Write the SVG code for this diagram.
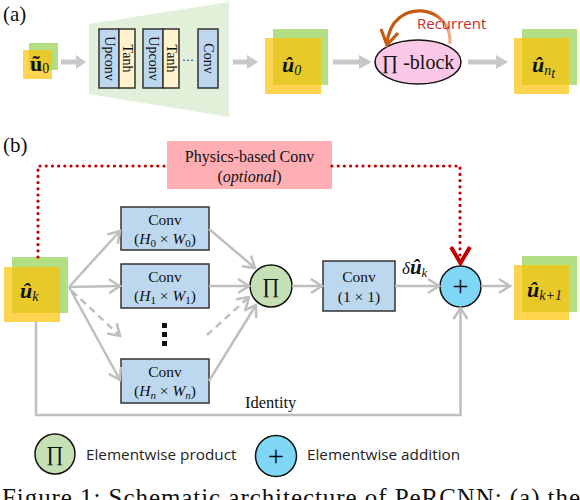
<svg xmlns="http://www.w3.org/2000/svg" width="580" height="500" viewBox="0 0 580 500">
<defs>
<style>
.serif{font-family:"Liberation Serif","Times New Roman",serif;fill:#111}
.sans{font-family:"Open Sans","Noto Sans",sans-serif;fill:#222}
.grn{fill:#b3df84}
.yel{fill:#ffc000;fill-opacity:0.69}
.blk{fill:#bdd7ee;stroke:#333;stroke-width:1.5}
.tanh{fill:#fff2cc;stroke:#333;stroke-width:1.5}
.con{fill:none;stroke:#bfbfbf;stroke-width:2.5}
.dash{stroke-dasharray:7 5}
.fat{fill:#c8c8c8}
.red{fill:none;stroke:#c00000;stroke-width:3.2;stroke-linecap:round;stroke-dasharray:0 6.2}
.pi{fill:#c5e0b4;stroke:#111;stroke-width:1.5}
.plus{fill:#7fd6f7;stroke:#111;stroke-width:1.5}
.lab{font-family:"Liberation Serif","Times New Roman",serif;font-weight:bold;font-style:italic;font-size:22px;fill:#111}
.sub{font-family:"Liberation Serif","Times New Roman",serif;font-style:italic;font-weight:normal;font-size:14px}
</style>
<marker id="ch" markerUnits="userSpaceOnUse" markerWidth="24" markerHeight="24" viewBox="-12 -12 24 24" refX="0" refY="0" orient="auto" overflow="visible">
<path d="M-11,-7 L0,0 L-11,7" fill="none" stroke="#bfbfbf" stroke-width="2.5"/>
</marker>
<linearGradient id="rg" x1="386" y1="0" x2="452" y2="0" gradientUnits="userSpaceOnUse">
<stop offset="0" stop-color="#c55a11"/>
<stop offset="0.72" stop-color="#c55a11"/>
<stop offset="1" stop-color="#f4b89a"/>
</linearGradient>
</defs>
<rect width="580" height="500" fill="#ffffff"/>

<!-- panel labels -->
<text class="serif" x="3" y="21" font-size="21">(a)</text>
<text class="serif" x="3" y="152" font-size="21">(b)</text>

<!-- (a) input u~0 -->
<g id="u0in">
<rect class="grn" x="29" y="43" width="29" height="27"/>
<rect class="yel" x="23" y="50" width="29" height="29"/>
<text class="serif" x="30" y="71" font-size="22" font-weight="bold">ũ<tspan font-size="14" font-weight="normal" dy="2">0</tspan></text>
</g>

<!-- (a) decoder trapezoid -->
<g id="decoder">
<polygon points="89,24 229,2 229,117 89,94" fill="#e2efd9"/>
<rect class="blk" x="99" y="29" width="20" height="59"/>
<rect class="tanh" x="119" y="29" width="16" height="59"/>
<rect class="blk" x="143" y="29" width="20" height="59"/>
<rect class="tanh" x="163" y="29" width="16" height="59"/>
<rect class="blk" x="198" y="29" width="20" height="59"/>
<text class="serif" font-size="14" text-anchor="middle" transform="translate(104.5,58.5) rotate(90)">Upconv</text>
<text class="serif" font-size="14" text-anchor="middle" transform="translate(122.5,58.5) rotate(90)">Tanh</text>
<text class="serif" font-size="14" text-anchor="middle" transform="translate(148.5,58.5) rotate(90)">Upconv</text>
<text class="serif" font-size="14" text-anchor="middle" transform="translate(166.5,58.5) rotate(90)">Tanh</text>
<text class="serif" font-size="14" text-anchor="middle" transform="translate(203.5,58.5) rotate(90)">Conv</text>
<text class="serif" font-size="12" text-anchor="middle" x="188" y="64">···</text>
</g>

<!-- (a) u^0 -->
<g id="u0">
<rect class="grn" x="273" y="29" width="55" height="56"/>
<rect class="yel" x="265" y="38" width="56" height="56"/>
<text class="lab" x="282" y="72">û<tspan class="sub" dy="3" font-style="normal">0</tspan></text>
</g>

<!-- (a) Pi block -->
<g id="piblock">
<ellipse cx="418" cy="62" rx="43" ry="22" fill="#fcc8e8" stroke="#111" stroke-width="1.5"/>
<text class="serif" x="418" y="69" font-size="20" text-anchor="middle">∏ -block</text>
</g>

<!-- (a) u^nt -->
<g id="unt">
<rect class="grn" x="522" y="29" width="55" height="56"/>
<rect class="yel" x="514" y="38" width="55" height="56"/>
<text class="lab" x="532" y="72">û<tspan class="sub" dy="3">n</tspan><tspan class="sub" font-size="10" dy="3">t</tspan></text>
</g>

<!-- (a) connectors -->
<g id="connectors-a">
<polygon class="fat" points="61,59.5 76,59.5 76,55 86,62 76,69 76,64.5 61,64.5"/>
<polygon class="fat" points="233,59.5 247,59.5 247,55 258,62 247,69 247,64.5 233,64.5"/>
<polygon class="fat" points="333,59.5 359,59.5 359,55 372,62 359,69 359,64.5 333,64.5"/>
<polygon class="fat" points="468,59.5 496,59.5 496,55 508,62 496,69 496,64.5 468,64.5"/>
<path d="M450,44 C453,4 392,-4 387,43" fill="none" stroke="url(#rg)" stroke-width="3.2"/>
<polyline points="381,29 387,45 398,33" fill="none" stroke="#c55a11" stroke-width="3.2"/>
<text class="sans" x="417" y="29" font-size="15" style="fill:#cc2a2a">Recurrent</text>
</g>

<!-- (b) physics-based conv -->
<g id="physics">
<rect x="167" y="141" width="165" height="48" fill="#ffaeb4"/>
<text class="serif" x="249.5" y="162" font-size="16" text-anchor="middle">Physics-based Conv</text>
<text class="serif" x="249.5" y="182" font-size="16" text-anchor="middle">(<tspan font-style="italic">optional</tspan>)</text>
</g>

<!-- (b) uk -->
<g id="uk">
<rect class="grn" x="12" y="257" width="56" height="56"/>
<rect class="yel" x="4" y="267" width="56" height="55"/>
<text class="lab" x="20" y="298">û<tspan class="sub" dy="3">k</tspan></text>
</g>

<!-- (b) conv branches -->
<g id="conv0">
<rect class="blk" x="121" y="207" width="88" height="43"/>
<text class="serif" x="165" y="225" font-size="15.5" text-anchor="middle">Conv</text>
<text class="serif" x="165" y="244" font-size="15.5" text-anchor="middle">(<tspan font-style="italic">H</tspan><tspan font-size="11" dy="3">0</tspan><tspan dy="-3"> × </tspan><tspan font-style="italic">W</tspan><tspan font-size="11" dy="3">0</tspan><tspan dy="-3">)</tspan></text>
</g>
<g id="conv1">
<rect class="blk" x="121" y="264" width="88" height="44"/>
<text class="serif" x="165" y="282" font-size="15.5" text-anchor="middle">Conv</text>
<text class="serif" x="165" y="301" font-size="15.5" text-anchor="middle">(<tspan font-style="italic">H</tspan><tspan font-size="11" dy="3">1</tspan><tspan dy="-3"> × </tspan><tspan font-style="italic">W</tspan><tspan font-size="11" dy="3">1</tspan><tspan dy="-3">)</tspan></text>
</g>
<g id="vdots">
<rect x="162" y="323" width="5" height="5" fill="#111"/>
<rect x="162" y="332" width="5" height="5" fill="#111"/>
<rect x="162" y="341" width="5" height="5" fill="#111"/>
</g>
<g id="convn">
<rect class="blk" x="121" y="359" width="88" height="44"/>
<text class="serif" x="165" y="377" font-size="15.5" text-anchor="middle">Conv</text>
<text class="serif" x="165" y="396" font-size="15.5" text-anchor="middle">(<tspan font-style="italic">H</tspan><tspan font-size="11" font-style="italic" dy="3">n</tspan><tspan dy="-3"> × </tspan><tspan font-style="italic">W</tspan><tspan font-size="11" font-style="italic" dy="3">n</tspan><tspan dy="-3">)</tspan></text>
</g>

<!-- (b) product -->
<g id="prod">
<circle class="pi" cx="271" cy="286" r="21"/>
<text class="serif" x="271" y="293" font-size="21" text-anchor="middle">∏</text>
</g>

<!-- (b) conv 1x1 -->
<g id="conv11">
<rect class="blk" x="323" y="261" width="72" height="50"/>
<text class="serif" x="359" y="282" font-size="15.5" text-anchor="middle">Conv</text>
<text class="serif" x="359" y="302" font-size="15.5" text-anchor="middle">(1 × 1)</text>
</g>

<!-- (b) addition -->
<g id="add">
<circle class="plus" cx="460.5" cy="286.5" r="20.5"/>
<text class="serif" x="460.5" y="296" font-size="29" text-anchor="middle">+</text>
</g>

<!-- (b) uk+1 -->
<g id="uk1">
<rect class="grn" x="522" y="256" width="55" height="56"/>
<rect class="yel" x="514" y="265" width="55" height="55"/>
<text class="lab" x="527" y="297">û<tspan class="sub" dy="3">k</tspan><tspan class="sub" font-style="normal">+1</tspan></text>
</g>

<!-- (b) connectors -->
<g id="connectors-b">
<path class="red" d="M38,257 L38,166 L167,166"/>
<path class="red" d="M332,166 L460,166 L460,258"/>
<polyline points="451,247 460.5,263 470,247" fill="none" stroke="#c00000" stroke-width="4"/>
<line class="con" x1="69" y1="287" x2="120" y2="231" marker-end="url(#ch)"/>
<line class="con" x1="69" y1="287" x2="120" y2="286" marker-end="url(#ch)"/>
<line class="con dash" x1="72" y1="291" x2="120" y2="336" marker-end="url(#ch)"/>
<line class="con" x1="69" y1="287" x2="120" y2="380" marker-end="url(#ch)"/>
<line class="con" x1="209" y1="229" x2="255" y2="268" marker-end="url(#ch)"/>
<line class="con" x1="209" y1="286" x2="249" y2="286" marker-end="url(#ch)"/>
<line class="con dash" x1="207" y1="335" x2="249" y2="297" marker-end="url(#ch)"/>
<line class="con" x1="209" y1="381" x2="256" y2="305" marker-end="url(#ch)"/>
<line class="con" x1="292" y1="286" x2="322" y2="286" marker-end="url(#ch)"/>
<line class="con" x1="395" y1="286" x2="439" y2="286" marker-end="url(#ch)"/>
<line class="con" x1="481" y1="286" x2="510" y2="286" marker-end="url(#ch)"/>
<path class="con" d="M36,322 L36,415 L460.5,415 L460.5,308" marker-end="url(#ch)"/>
<text class="serif" x="402" y="274" font-size="17" font-style="italic">δ<tspan font-weight="bold" font-size="21">û</tspan><tspan font-size="13" dy="3">k</tspan></text>
<text class="serif" x="245" y="408" font-size="16.5">Identity</text>
</g>

<!-- legend -->
<g id="legend">
<circle class="pi" cx="55" cy="454" r="20"/>
<text class="serif" x="55" y="461" font-size="21" text-anchor="middle">∏</text>
<text class="sans" x="86" y="460" font-size="15.3">Elementwise product</text>
<circle class="plus" cx="276" cy="456" r="20.5"/>
<text class="serif" x="276" y="466" font-size="29" text-anchor="middle">+</text>
<text class="sans" x="307" y="460" font-size="15.3">Elementwise addition</text>
</g>

<text class="serif" x="2" y="505.5" font-size="25" textLength="578" lengthAdjust="spacing">Figure 1: Schematic architecture of PeRCNN: (a) the</text>
</svg>
